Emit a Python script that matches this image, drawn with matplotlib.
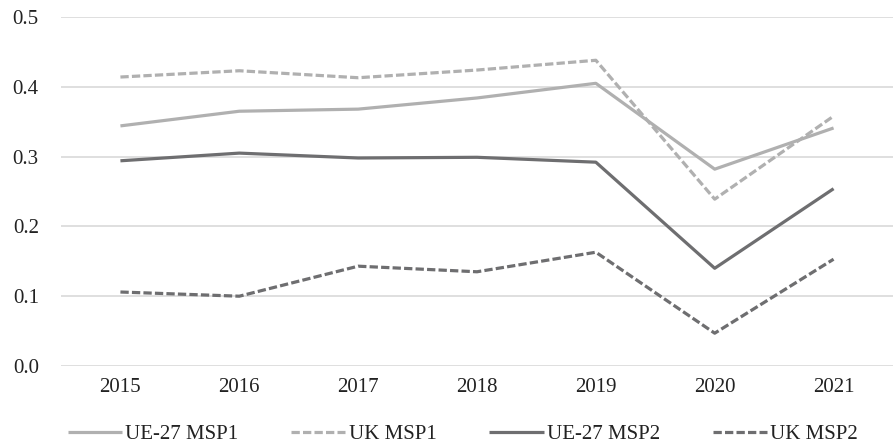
import numpy as np
import matplotlib.pyplot as plt

plt.rcParams["font.family"] = ["Liberation Serif", "DejaVu Serif"]

years = ["2015", "2016", "2017", "2018", "2019", "2020", "2021"]
ue27_msp1 = [0.344, 0.365, 0.368, 0.384, 0.405, 0.282, 0.341]
uk_msp1 = [0.414, 0.423, 0.413, 0.424, 0.438, 0.239, 0.358]
ue27_msp2 = [0.294, 0.305, 0.298, 0.299, 0.292, 0.140, 0.254]
uk_msp2 = [0.106, 0.100, 0.143, 0.135, 0.163, 0.047, 0.153]

light = "#b0b0b0"
dark = "#6e6e70"

fig = plt.figure(figsize=(8.93, 4.47), dpi=100)
ax = fig.add_axes([61 / 893, 1 - 366 / 447, 1 - 61 / 893, (366 - 17) / 447])

x = np.arange(len(years))
dash = (0, (2.6, 1.0))
series = [
    ("UE-27 MSP1", ue27_msp1, light, "-"),
    ("UK MSP1", uk_msp1, light, dash),
    ("UE-27 MSP2", ue27_msp2, dark, "-"),
    ("UK MSP2", uk_msp2, dark, dash),
]
for label, vals, color, ls in series:
    ax.plot(x, vals, color=color, linestyle=ls, linewidth=2.3, label=label,
            solid_capstyle="butt", dash_capstyle="butt")

ax.set_xlim(-0.5, len(years) - 0.5)
ax.set_ylim(0, 0.5)
ax.set_yticks(np.arange(0, 0.51, 0.1))
ax.yaxis.set_major_formatter(plt.FuncFormatter(lambda v, _: f"{v:.1f}"))
ax.set_xticks(x)
ax.set_xticklabels(years)
ax.grid(axis="y", color="#d9d9d9", linewidth=1.2)
ax.set_axisbelow(True)
for s in ax.spines.values():
    s.set_visible(False)
ax.tick_params(length=0, labelsize=15, colors="#222222")
ax.tick_params(axis="y", pad=16)
ax.tick_params(axis="x", pad=9)

ax.legend(loc="upper center", bbox_to_anchor=(0.483, -0.115), ncol=4, frameon=False,
          fontsize=15, handlelength=2.6, handletextpad=0.15, columnspacing=2.55,
          labelcolor="#222222")

fig.savefig("out.png", dpi=100)
